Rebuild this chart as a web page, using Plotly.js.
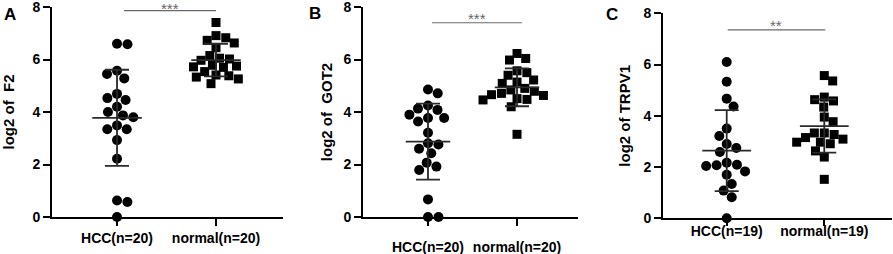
<!DOCTYPE html>
<html>
<head>
<meta charset="utf-8">
<script src="https://cdn.plot.ly/plotly-3.0.1.min.js"></script>
<style>html,body{margin:0;padding:0;background:#fff}#chart{width:893px;height:254px}</style>
</head>
<body>
<div id="chart"></div>
<script>
// ---- data ----
const catsA = ['HCC(n=20)', 'normal(n=20)'];
const catsB = ['HCC(n=20)', 'normal(n=20)'];
const catsC = ['HCC(n=19)', 'normal(n=19)'];

const hccF2    = [6.58, 6.60, 5.45, 5.57, 5.28, 4.69, 4.53, 4.46, 4.20, 4.00, 3.87, 3.80, 3.49, 3.34, 3.34, 2.93, 2.22, 0.63, 0.57, 0.00];
const normalF2 = [7.41, 6.91, 6.83, 6.73, 6.63, 6.45, 6.15, 6.05, 6.02, 5.97, 5.78, 5.72, 5.70, 5.75, 5.41, 5.54, 5.33, 5.38, 5.26, 5.08];
const meanF2 = [3.78, 5.98];
const sdF2   = [1.83, 0.62];

const hccGOT2    = [4.86, 4.71, 4.25, 4.08, 4.13, 3.77, 3.77, 3.90, 3.64, 3.21, 2.81, 2.76, 2.60, 2.43, 2.07, 1.92, 1.79, 0.67, 0.00, 0.00];
const normalGOT2 = [6.23, 5.98, 6.04, 5.57, 5.50, 5.40, 5.22, 5.14, 5.09, 4.84, 4.79, 4.71, 4.63, 4.66, 4.51, 4.46, 4.48, 4.20, 3.15, 4.90];
const meanGOT2 = [2.87, 4.94];
const sdGOT2   = [1.45, 0.72];

const hccTRPV1    = [6.10, 5.33, 4.67, 4.36, 3.50, 3.21, 2.90, 2.74, 2.59, 2.17, 2.09, 2.04, 2.07, 1.70, 1.83, 1.34, 1.08, 0.82, 0.00];
const normalTRPV1 = [5.57, 5.36, 4.63, 4.73, 4.58, 4.34, 3.95, 3.77, 3.33, 3.15, 3.33, 3.27, 2.97, 2.91, 2.97, 3.09, 2.63, 2.39, 1.52];
const meanTRPV1 = [2.64, 3.60];
const sdTRPV1   = [1.58, 1.04];

const sigText = ['***', '***', '**'];
const sigY    = [7.86, 7.40, 7.35];
const sigFrom = [0.07, 0.045, 0.01];
const sigTo   = [1.00, 1.055, 1.01];

const yTitles = ['log2 of\u00a0 F2', 'log2 of\u00a0 GOT2', 'log2 of TRPV1'];
const panelLetters = ['A', 'B', 'C'];

// ---- beeswarm offsets (computed from values, in pixel space) ----
function swarm(vals, pxPerY, pxPerX, d) {
  const order = vals.map((v, i) => i).sort((a, b) => vals[b] - vals[a]);
  const placed = [];
  const off = new Array(vals.length).fill(0);
  let side = 1;
  order.forEach(i => {
    const y = vals[i] * pxPerY;
    const cands = [0];
    placed.forEach(p => {
      const dy = Math.abs(p.y - y);
      if (dy < d) {
        const dx = Math.sqrt(d * d - dy * dy);
        cands.push(p.x + dx, p.x - dx);
      }
    });
    const ok = cands.filter(c => placed.every(p => (p.x - c) ** 2 + (p.y - y) ** 2 >= d * d - 0.01));
    ok.sort((a, b) => (Math.abs(a) - Math.abs(b)) || (side * (b - a)));
    const x = ok[0];
    if (x !== 0) side = -side;
    placed.push({x: x, y: y});
    off[i] = x / pxPerX;
  });
  return off;
}

const FONT = 'Liberation Sans, Arial, sans-serif';
const panels = [
  {hcc: hccF2, nor: normalF2, mean: meanF2, sd: sdF2, cats: catsA, xa: 'x', ya: 'y', pxY: 26.25, pxX: 99},
  {hcc: hccGOT2, nor: normalGOT2, mean: meanGOT2, sd: sdGOT2, cats: catsB, xa: 'x2', ya: 'y2', pxY: 26.25, pxX: 89},
  {hcc: hccTRPV1, nor: normalTRPV1, mean: meanTRPV1, sd: sdTRPV1, cats: catsC, xa: 'x3', ya: 'y3', pxY: 25.6, pxX: 98}
];

const traces = [];
panels.forEach((p, k) => {
  const oh = swarm(p.hcc, p.pxY, p.pxX, 10.5);
  const on = swarm(p.nor, p.pxY, p.pxX, 10);
  traces.push({
    type: 'scatter', mode: 'markers', xaxis: p.xa, yaxis: p.ya, cliponaxis: false,
    x: p.hcc.map((v, i) => 0 + oh[i]), y: p.hcc,
    marker: {symbol: 'circle', size: 10, color: '#000'}, hoverinfo: 'y'
  });
  traces.push({
    type: 'scatter', mode: 'markers', xaxis: p.xa, yaxis: p.ya, cliponaxis: false,
    x: p.nor.map((v, i) => 1 + on[i]), y: p.nor,
    marker: {symbol: 'square', size: 9, color: '#000'}, hoverinfo: 'y'
  });
  // mean line (error_x) and SD bars (error_y)
  traces.push({
    type: 'scatter', mode: 'markers', xaxis: p.xa, yaxis: p.ya, cliponaxis: false,
    x: [0, 1], y: p.mean,
    marker: {size: 1, color: 'rgba(0,0,0,0)'},
    error_y: {type: 'data', array: p.sd, visible: true, color: '#2a2a2a', thickness: 1.8, width: 12},
    error_x: {type: 'constant', value: 0.25, visible: true, color: '#2a2a2a', thickness: 1.8, width: 0},
    hoverinfo: 'skip'
  });
  // significance line
  traces.push({
    type: 'scatter', mode: 'lines', xaxis: p.xa, yaxis: p.ya, cliponaxis: false,
    x: [sigFrom[k], sigTo[k]], y: [sigY[k], sigY[k]],
    line: {color: '#6a6a6a', width: 1.2}, hoverinfo: 'skip'
  });
});

const domX = [[52/893, 283/893], [363/893, 578/893], [663/893, 892/893]];
const domY = [[0.1457, 0.9724], [0.1457, 0.9724], [0.1406, 0.9476]];
const rangeX = [[-0.657, 1.677], [-0.730, 1.685], [-0.653, 1.694]];
const standoffX = [0, 9, 0];
const standoffY = [16, 7, 9];
const tickLenX = [7, 7, 6];
const starShift = [-8, -6, -6];

const layout = {
  width: 893, height: 254,
  margin: {l: 0, r: 0, t: 0, b: 0},
  paper_bgcolor: '#fff', plot_bgcolor: '#fff',
  showlegend: false,
  font: {family: FONT, color: '#000'},
  annotations: []
};

const tickFont = {family: FONT, size: 14, weight: 'bold', color: '#000'};
panels.forEach((p, k) => {
  const sx = k === 0 ? '' : String(k + 1);
  layout['xaxis' + sx] = {
    domain: domX[k], range: rangeX[k], anchor: 'y' + sx,
    tickmode: 'array', tickvals: [0, 1], ticktext: p.cats,
    showticklabels: k !== 2,
    showline: true, linewidth: 2, linecolor: '#000',
    ticks: 'outside', ticklen: tickLenX[k], tickwidth: 2, tickcolor: '#000',
    ticklabelstandoff: standoffX[k], ticklabeloverflow: 'allow',
    tickfont: tickFont,
    showgrid: false, zeroline: false, fixedrange: true
  };
  layout['yaxis' + sx] = {
    domain: domY[k], range: [0, 8], anchor: 'x' + sx,
    tickvals: [0, 2, 4, 6, 8], ticklabeloverflow: 'allow',
    showline: true, linewidth: 2, linecolor: '#000',
    ticks: 'outside', ticklen: 7, tickwidth: 2, tickcolor: '#000',
    tickfont: tickFont,
    title: {text: yTitles[k], standoff: standoffY[k], font: {family: FONT, size: 15, weight: 'bold', color: '#000'}},
    showgrid: false, zeroline: false, fixedrange: true
  };
  layout.annotations.push({
    xref: 'x' + sx, yref: 'y' + sx,
    x: (sigFrom[k] + sigTo[k]) / 2, y: sigY[k],
    text: sigText[k], showarrow: false, yanchor: 'bottom', yshift: starShift[k],
    font: {family: FONT, size: 15, color: '#666'}
  });
});
// labels-only overlay axis for panel C (its labels sit close to the axis line)
layout.xaxis4 = {
  domain: domX[2], range: rangeX[2], anchor: 'y3', overlaying: 'x3',
  tickmode: 'array', tickvals: [0, 1], ticktext: catsC,
  showline: false, ticks: '', ticklabeloverflow: 'allow', ticklabelstandoff: 3,
  tickfont: tickFont, showgrid: false, zeroline: false, fixedrange: true
};
traces.push({type: 'scatter', mode: 'markers', xaxis: 'x4', yaxis: 'y3', x: [0, 1], y: [null, null], hoverinfo: 'skip', showlegend: false});

const letterX = [10, 315, 612];
const letterY = [14, 13, 14];
panelLetters.forEach((t, k) => {
  layout.annotations.push({
    xref: 'paper', yref: 'paper', x: letterX[k] / 893, y: 1 - letterY[k] / 254,
    xanchor: 'center', yanchor: 'middle', text: t, showarrow: false,
    font: {family: FONT, size: 17, weight: 'bold', color: '#000'}
  });
});

Plotly.newPlot('chart', traces, layout, {staticPlot: true, displayModeBar: false});
</script>
</body>
</html>
